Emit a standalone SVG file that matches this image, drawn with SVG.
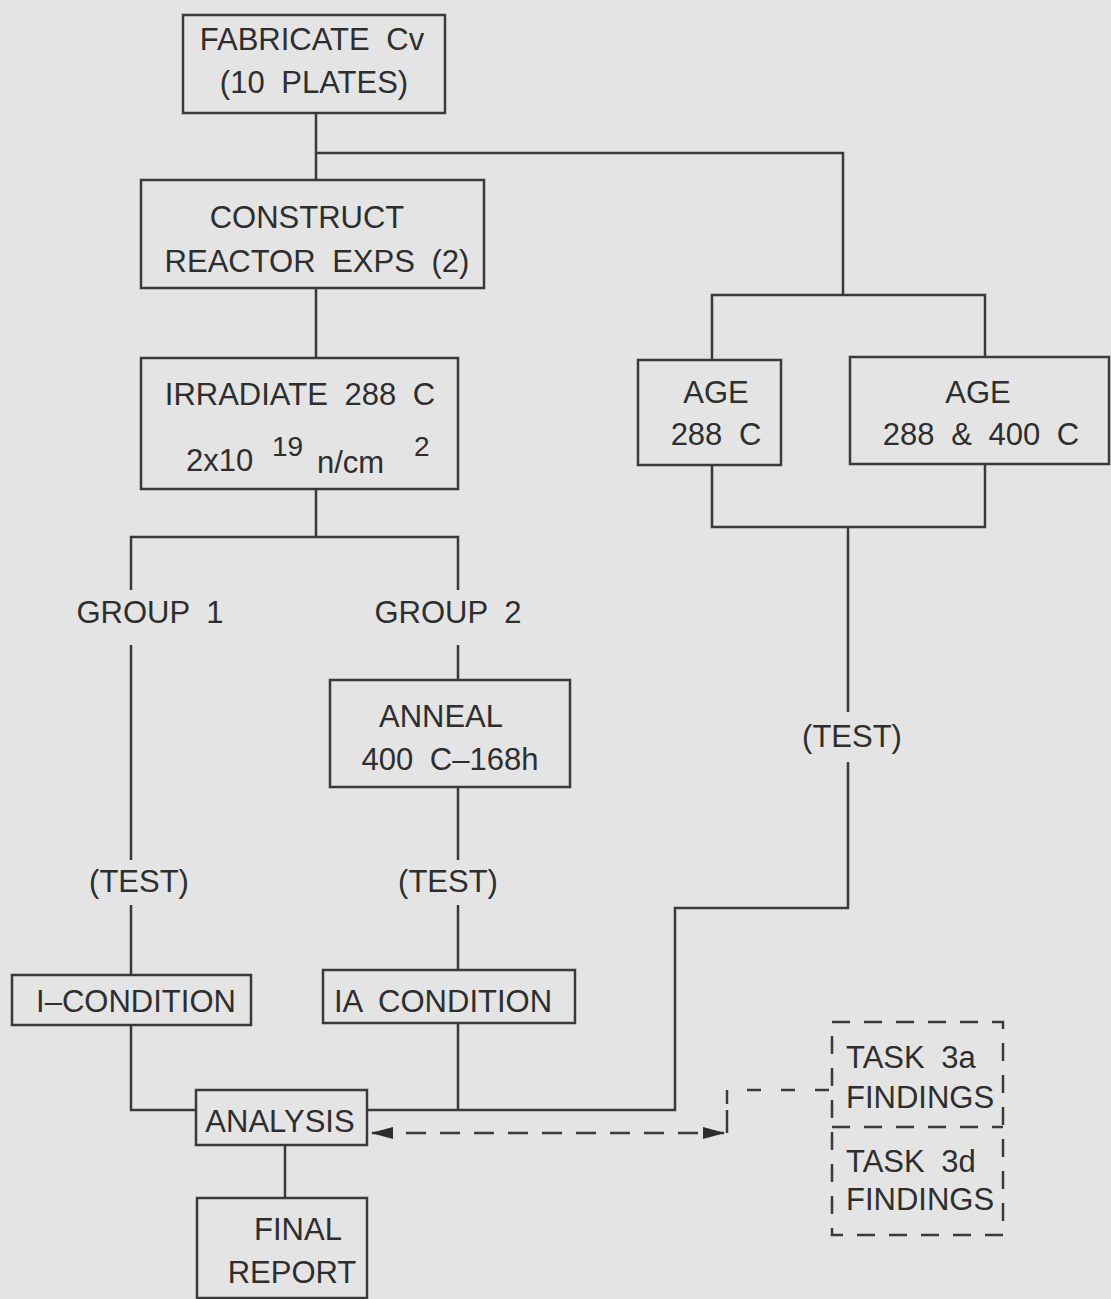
<svg xmlns="http://www.w3.org/2000/svg" width="1111" height="1299" viewBox="0 0 1111 1299">
<style>
.bg{fill:#e4e4e4}
.box{fill:none;stroke:#3a3a3a;stroke-width:2.5}
.ln{fill:none;stroke:#3a3a3a;stroke-width:2.5}
.dash{fill:none;stroke:#3a3a3a;stroke-width:2.5;stroke-dasharray:20 14}
text{font-family:"Liberation Sans",Arial,sans-serif;font-size:31px;fill:#2e2e2e;text-anchor:middle;word-spacing:8px}
.l{text-anchor:start}
.sup{font-size:28px}
</style>
<defs>
<marker id="ah" markerWidth="10" markerHeight="8" refX="9" refY="4" orient="auto-start-reverse" markerUnits="userSpaceOnUse" viewBox="0 0 10 8">
<path d="M0,0 L10,4 L0,8 Z" fill="#2e2e2e"/>
</marker>
<marker id="ah2" markerWidth="22" markerHeight="12" refX="21" refY="6" orient="auto-start-reverse" markerUnits="userSpaceOnUse" viewBox="0 0 22 12">
<path d="M0,0 L22,6 L0,12 Z" fill="#2e2e2e"/>
</marker>
</defs>
<rect class="bg" x="0" y="0" width="1111" height="1299"/>

<g id="connectors">
<path class="ln" d="M316,113 V180"/>
<path class="ln" d="M316,153 H843 V295"/>
<path class="ln" d="M712,360 V295 H985 V357"/>
<path class="ln" d="M316,288 V358"/>
<path class="ln" d="M316,489 V537"/>
<path class="ln" d="M131,590 V537 H458 V590"/>
<path class="ln" d="M131,645 V860"/>
<path class="ln" d="M131,905 V975"/>
<path class="ln" d="M458,645 V680"/>
<path class="ln" d="M458,787 V860"/>
<path class="ln" d="M458,905 V970"/>
<path class="ln" d="M131,1025 V1110 H196"/>
<path class="ln" d="M458,1023 V1110"/>
<path class="ln" d="M367,1110 H675 V908 H848 V762"/>
<path class="ln" d="M848,712 V527"/>
<path class="ln" d="M712,465 V527 H985 V464"/>
<path class="ln" d="M285,1145 V1198"/>
<path class="dash" d="M372,1133 H724" marker-start="url(#ah2)" marker-end="url(#ah2)"/>
<path class="ln" d="M727,1133 V1110"/>
<path class="dash" d="M727,1104 V1090 H833" style="stroke-dasharray:14 20"/>
</g>

<g id="fabricate">
<rect class="box" x="183" y="15" width="262" height="98"/>
<text x="312" y="50">FABRICATE Cv</text>
<text x="314" y="93">(10 PLATES)</text>
</g>
<g id="construct">
<rect class="box" x="141" y="180" width="343" height="108"/>
<text x="307" y="228">CONSTRUCT</text>
<text x="317" y="272">REACTOR EXPS (2)</text>
</g>
<g id="irradiate">
<rect class="box" x="141" y="358" width="317" height="131"/>
<text x="300" y="405">IRRADIATE 288 C</text>
<text class="l" x="186" y="471">2x10</text>
<text class="l sup" x="272" y="456">19</text>
<text class="l" x="317" y="473">n/cm</text>
<text class="l sup" x="414" y="456">2</text>
</g>
<g id="group1"><text x="150" y="623">GROUP 1</text></g>
<g id="group2"><text x="448" y="623">GROUP 2</text></g>
<g id="anneal">
<rect class="box" x="330" y="680" width="240" height="107"/>
<text x="441" y="727">ANNEAL</text>
<text x="450" y="770">400 C–168h</text>
</g>
<g id="test1"><text x="139" y="892">(TEST)</text></g>
<g id="test2"><text x="448" y="892">(TEST)</text></g>
<g id="test3"><text x="852" y="747">(TEST)</text></g>
<g id="icond">
<rect class="box" x="12" y="975" width="239" height="50"/>
<text x="136" y="1012">I–CONDITION</text>
</g>
<g id="iacond">
<rect class="box" x="323" y="970" width="252" height="53"/>
<text x="443" y="1012">IA CONDITION</text>
</g>
<g id="analysis">
<rect class="box" x="196" y="1090" width="171" height="55"/>
<text x="280" y="1132">ANALYSIS</text>
</g>
<g id="final">
<rect class="box" x="197" y="1198" width="170" height="100"/>
<text x="298" y="1240">FINAL</text>
<text x="292" y="1283">REPORT</text>
</g>
<g id="age288">
<rect class="box" x="638" y="360" width="143" height="105"/>
<text x="716" y="403">AGE</text>
<text x="716" y="445">288 C</text>
</g>
<g id="age288400">
<rect class="box" x="850" y="357" width="259" height="107"/>
<text x="978" y="403">AGE</text>
<text x="981" y="445">288 &amp; 400 C</text>
</g>
<g id="findings">
<rect class="dash" x="832" y="1022" width="171" height="213" style="stroke-dasharray:18 14"/>
<path class="dash" d="M832,1127 H1003" style="stroke-dasharray:18 14"/>
<text class="l" x="846" y="1068">TASK 3a</text>
<text class="l" x="846" y="1108">FINDINGS</text>
<text class="l" x="846" y="1172">TASK 3d</text>
<text class="l" x="846" y="1210">FINDINGS</text>
</g>
</svg>
